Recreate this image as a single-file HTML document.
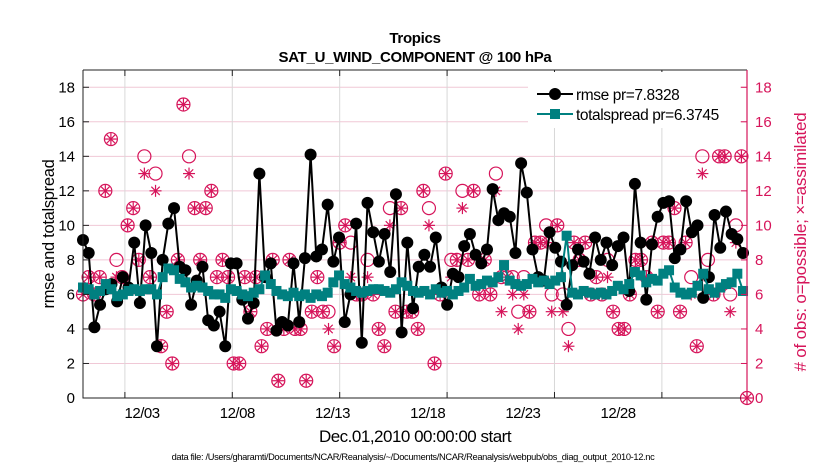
<!DOCTYPE html>
<html><head><meta charset="utf-8">
<style>
body{margin:0;background:#fff;}
svg{display:block;font-family:"Liberation Sans",Arial,sans-serif;}
</style></head>
<body>
<svg id="chart" width="830" height="470" viewBox="0 0 830 470" xmlns="http://www.w3.org/2000/svg">
<rect width="830" height="470" fill="#fff"/>
<g id="grid"></g>
<g id="obs"></g>
<g id="series"></g>
<g id="axes"></g>
<text x="415" y="43" text-anchor="middle" font-size="15" font-weight="bold" letter-spacing="-0.3">Tropics</text>
<text x="415" y="62" text-anchor="middle" font-size="15" font-weight="bold" letter-spacing="-0.3">SAT_U_WIND_COMPONENT @ 100 hPa</text>
<text transform="translate(54,234) rotate(-90)" text-anchor="middle" font-size="16.5" letter-spacing="-0.3">rmse and totalspread</text>
<text transform="translate(806,242) rotate(-90)" text-anchor="middle" font-size="17" fill="#d6145a" letter-spacing="-0.2"># of obs: o=possible; ×=assimilated</text>
<text x="415" y="442" text-anchor="middle" font-size="17" letter-spacing="-0.5">Dec.01,2010 00:00:00 start</text>
<text x="413" y="460" text-anchor="middle" font-size="9.3" letter-spacing="-0.35">data file: /Users/gharamti/Documents/NCAR/Reanalysis/~/Documents/NCAR/Reanalysis/webpub/obs_diag_output_2010-12.nc</text>
<g id="legend">
<rect x="528" y="72" width="212" height="56" fill="#fff"/>
<line x1="537" y1="94" x2="573" y2="94" stroke="#000" stroke-width="2"/>
<circle cx="555" cy="94" r="6" fill="#000"/>
<text x="576" y="100" font-size="15.5" letter-spacing="-0.4">rmse pr=7.8328</text>
<line x1="537" y1="114" x2="573" y2="114" stroke="#008080" stroke-width="2"/>
<rect x="550" y="109" width="10" height="10" fill="#008080"/>
<text x="576" y="120" font-size="15.5" letter-spacing="-0.4">totalspread pr=6.3745</text>
</g>
</svg>
<script>
const rmse=[9.15,8.4,4.1,5.4,6.3,6.6,5.6,7.0,6.4,9.0,5.5,10.0,8.4,3.0,8.0,10.1,11.0,7.6,7.4,5.4,6.8,7.6,4.5,4.2,5.0,3.0,7.8,7.8,5.7,4.6,5.5,13.0,7.0,7.8,3.9,4.4,4.2,7.8,
4.4,8.1,14.1,8.2,8.6,11.2,7.9,9.3,4.4,6.0,10.1,3.2,11.3,9.6,7.9,9.5,7.3,11.8,3.8,9.0,5.2,7.6,8.3,7.6,9.3,6.4,5.4,7.2,7.0,8.8,9.5,8.3,7.8,8.6,12.1,10.3,10.7,
10.5,8.4,13.6,11.9,8.6,7.0,6.8,9.6,8.7,7.9,5.4,7.7,8.6,7.9,7.2,9.3,8.0,9.0,7.7,8.8,9.3,6.2,12.4,9.0,5.7,8.9,10.5,11.3,11.4,8.1,8.6,11.4,9.6,10.0,5.8,7.0,10.6,8.7,10.8,9.5,9.2,8.4];
const spread=[6.4,6.3,6.0,6.2,6.6,6.3,5.9,6.0,6.2,6.3,6.2,6.3,6.3,6.0,7.0,7.5,7.4,6.9,6.7,6.4,6.5,6.4,6.2,6.0,6.0,5.8,6.3,6.2,6.0,5.9,6.1,6.3,7.1,6.6,6.2,6.0,5.9,6.1,5.9,6.0,
5.8,6.0,5.9,6.1,6.7,7.1,6.6,6.4,6.2,6.1,6.2,6.3,6.3,6.2,6.1,6.3,6.7,6.5,6.2,6.1,6.2,6.0,6.3,6.1,6.2,6.0,6.2,6.4,6.9,6.5,6.6,6.8,6.7,7.0,7.7,6.8,6.6,6.5,6.6,6.9,
6.7,6.8,6.6,6.8,7.0,9.4,6.1,6.0,6.2,6.1,6.0,6.1,6.0,6.2,6.5,6.3,6.6,7.3,7.1,6.7,6.9,6.8,7.2,7.4,6.4,6.1,6.0,6.1,6.5,7.2,6.3,6.1,6.4,6.6,6.7,7.2,6.2];
const obsPossible=[6,7,6,7,12,15,8,7,10,11,8,14,7,13,3,5,2,8,17,14,11,8,11,12,7,8,7,2,2,7,5,7,3,4,8,1,4,8,4,4,1,5,7,5,5,3,9,10,9,6,6,8,6,4,3,11,5,11,5,5,4,12,11,2,6,13,8,8,12,8,12,6,8,6,13,7,7,7,5,7,5,9,9,10,6,10,6,4,9,8,9,6,7,6,8,5,4,4,6,8,8,7,9,5,9,9,11,5,9,7,3,14,8,6,14,14,6,10,14,0];
const obsAssim=[6,7,6,7,12,15,7,7,10,11,8,13,7,12,3,5,2,8,17,13,11,8,11,12,7,8,7,2,2,7,5,7,3,4,8,1,4,8,4,4,1,5,7,5,4,3,9,10,7,6,6,7,6,4,3,10,5,11,5,5,4,12,10,2,6,13,7,8,11,8,12,6,8,6,12,5,7,6,4,6,5,9,9,9,5,10,5,3,9,8,9,6,7,6,7,5,4,4,6,8,8,7,9,5,9,9,11,5,9,6,3,13,7,6,14,14,5,9,14,0];
const gridDays=[1.1,6.74,12.38,18.02,23.66,29.3];
const labelDays=[2,7,12,17,22,27];
const labelText=["12/03","12/08","12/13","12/18","12/23","12/28"];
const yTicks=[0,2,4,6,8,10,12,14,16,18];

const NS="http://www.w3.org/2000/svg";
const L=83,R=747,T=70,B=398;
const dMin=-1.1,dMax=33.77;
const x=d=>L+(d-dMin)/(dMax-dMin)*(R-L);
const y=v=>B-v/19*(B-T);
function mk(tag,attrs,parent){const e=document.createElementNS(NS,tag);for(const k in attrs)e.setAttribute(k,attrs[k]);parent.appendChild(e);return e;}
const grid=document.getElementById('grid'),obsG=document.getElementById('obs'),ser=document.getElementById('series'),ax=document.getElementById('axes');
const tEnd=(743-104)/19.04;
const tR=i=>dMin+i*(tEnd-dMin)/(rmse.length-1);
const tS=i=>dMin+i*(tEnd-dMin)/(spread.length-1);
const tO=i=>dMin+i*(dMax-dMin)/(obsPossible.length-1);

yTicks.forEach(v=>{if(v===0)return;
const g=mk('line',{x1:L,x2:R,y1:y(v),y2:y(v),stroke:'#f0c8d6','stroke-width':1},grid);

});
gridDays.forEach(d=>{
const g=mk('line',{x1:x(d),x2:x(d),y1:T,y2:B,stroke:'#d8d8d8','stroke-width':1},grid);


const tk=mk('line',{x1:x(d),x2:x(d),y1:B,y2:B-6,stroke:'#222'},ax);


const tk2=mk('line',{x1:x(d),x2:x(d),y1:T,y2:T+6,stroke:'#222'},ax);

});
labelDays.forEach((d,i)=>{
const t=mk('text',{x:104+19.04*d,y:418,'text-anchor':'middle','font-size':15,'letter-spacing':'-0.5'},ax);t.textContent=labelText[i];

});

obsPossible.forEach((v,i)=>{
const c=mk('circle',{cx:x(tO(i)),cy:y(v),r:6.5,fill:'none',stroke:'#d6145a','stroke-width':1.2},obsG);

});
obsAssim.forEach((v,i)=>{
const cx=x(tO(i)),cy=y(v),s=6;
const g=mk('g',{stroke:'#d6145a','stroke-width':1.2},obsG);


mk('line',{x1:cx-s,x2:cx+s,y1:cy,y2:cy},g);
mk('line',{x1:cx,x2:cx,y1:cy-s,y2:cy+s},g);
mk('line',{x1:cx-s*.7,x2:cx+s*.7,y1:cy-s*.7,y2:cy+s*.7},g);
mk('line',{x1:cx-s*.7,x2:cx+s*.7,y1:cy+s*.7,y2:cy-s*.7},g);});

const pr=mk('polyline',{points:rmse.map((v,i)=>x(tR(i))+','+y(v)).join(' '),fill:'none',stroke:'#000','stroke-width':2},ser);


rmse.forEach((v,i)=>{const c=mk('circle',{cx:x(tR(i)),cy:y(v),r:6,fill:'#000'},ser);

});
const ps=mk('polyline',{points:spread.map((v,i)=>x(tS(i))+','+y(v)).join(' '),fill:'none',stroke:'#008080','stroke-width':2},ser);


spread.forEach((v,i)=>{const r=mk('rect',{x:x(tS(i))-5,y:y(v)-5,width:10,height:10,fill:'#008080'},ser);

});

const box=mk('path',{d:`M${L},${T}H${R}M${L},${T}V${B}H${R}`,fill:'none',stroke:'#222','stroke-width':1},ax);


const ra=mk('line',{x1:R,x2:R,y1:T,y2:B,stroke:'#d6145a','stroke-width':1.2},ax);


yTicks.forEach(v=>{
const t=mk('text',{x:L-8,y:y(v)+5,'text-anchor':'end','font-size':15},ax);t.textContent=v;


const t2=mk('text',{x:R+8,y:y(v)+5,'text-anchor':'start','font-size':15,fill:'#d6145a'},ax);t2.textContent=v;


const k=mk('line',{x1:L,x2:L+6,y1:y(v),y2:y(v),stroke:'#222'},ax);


const k2=mk('line',{x1:R-6,x2:R,y1:y(v),y2:y(v),stroke:'#d6145a'},ax);

});
</script>
</body></html>
